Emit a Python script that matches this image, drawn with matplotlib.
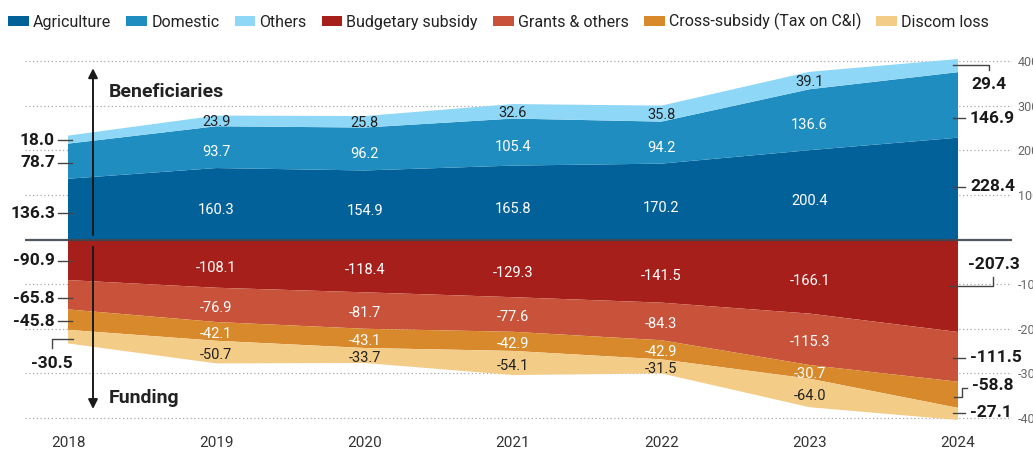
import matplotlib
matplotlib.use("Agg")
import matplotlib.pyplot as plt
from matplotlib.patches import Patch
import numpy as np

plt.rcParams['font.family'] = ['Roboto', 'DejaVu Sans']

years = [2018, 2019, 2020, 2021, 2022, 2023, 2024]
agriculture = [136.3, 160.3, 154.9, 165.8, 170.2, 200.4, 228.4]
domestic = [78.7, 93.7, 96.2, 105.4, 94.2, 136.6, 146.9]
others = [18.0, 23.9, 25.8, 32.6, 35.8, 39.1, 29.4]
budgetary = [-90.9, -108.1, -118.4, -129.3, -141.5, -166.1, -207.3]
grants = [-65.8, -76.9, -81.7, -77.6, -84.3, -115.3, -111.5]
cross_subsidy = [-45.8, -42.1, -43.1, -42.9, -42.9, -30.7, -58.8]
discom_loss = [-30.5, -50.7, -33.7, -54.1, -31.5, -64.0, -27.1]

names = ["Agriculture", "Domestic", "Others", "Budgetary subsidy",
         "Grants & others", "Cross-subsidy (Tax on C&I)", "Discom loss"]
colors = ["#03619a", "#1f8dbf", "#8ed7f6", "#a61f1a", "#c9523a", "#d8892c", "#f3cd88"]
label_colors = ["white", "white", "#222222", "white", "white", "white", "#222222"]
label_offsets = [-14, -12, -3, -10, -6, -5, -6]
yticks = [-400, -300, -200, -100, 100, 200, 300, 400]
ytick_labels = ["-400", "-300", "-200", "-100", "100", "200", "300", "400"]

pos_series = [agriculture, domestic, others]
neg_series = [budgetary, grants, cross_subsidy, discom_loss]

fig = plt.figure(figsize=(10.33, 4.65), dpi=100)
ax = fig.add_axes([25/1033, 0.0869, 987/1033, 0.796])

x = np.array(years, dtype=float)
ax.stackplot(x, *pos_series, colors=colors[:3], lw=0, zorder=2)
ax.stackplot(x, *neg_series, colors=colors[3:], lw=0, zorder=2)

ax.set_xlim(2018 - 43/148.33, 2024 + 54/148.33)
ax.set_ylim(-415, 415)

for yv in yticks:
    ax.axhline(yv, color="#a8a8a8", lw=0.9, ls=(0, (1, 2)), zorder=1)
ax.axhline(0, color="#3a4650", lw=1.6, zorder=4, alpha=0.9)

for s in ax.spines.values():
    s.set_visible(False)
ax.set_xticks(years)
ax.set_xticklabels([str(y) for y in years])
ax.tick_params(axis='x', length=0, pad=8, labelsize=11, labelcolor="#333333")
ax.yaxis.tick_right()
ax.set_yticks(yticks)
ax.set_yticklabels(ytick_labels)
ax.tick_params(axis='y', length=0, pad=4, labelsize=9, labelcolor="#666666")

# inner labels
pos_cum = np.cumsum(np.array(pos_series), axis=0)
neg_cum = np.cumsum(np.array(neg_series), axis=0)
for i in range(1, 6):
    for k, s in enumerate(pos_series):
        base = pos_cum[k - 1][i] if k > 0 else 0.0
        yv = base + s[i] / 2 + label_offsets[k]
        ax.text(x[i], yv, f"{s[i]:.1f}", ha='center', va='center',
                color=label_colors[k], fontsize=10.5, zorder=5)
    for k, s in enumerate(neg_series):
        base = neg_cum[k - 1][i] if k > 0 else 0.0
        yv = base + s[i] / 2 + label_offsets[3 + k]
        ax.text(x[i], yv, f"{s[i]:.1f}", ha='center', va='center',
                color=label_colors[3 + k], fontsize=10.5, zorder=5)

# left edge labels (2018)
lab_kw = dict(fontsize=12.5, fontweight='semibold', color="#1a1a1a", zorder=6)
px = 148.33
xl_text = 2018 - 13/px
tick_l = (2018 - 10/px, 2018 + 4/px)
left_pos = [(agriculture[0], 59), (domestic[0], 172), (others[0], 223),
            (budgetary[0], -47.5), (grants[0], -132), (cross_subsidy[0], -183)]
for val, yv in left_pos:
    ax.text(xl_text, yv, f"{val:.1f}", ha='right', va='center', **lab_kw)
    ax.plot(tick_l, [yv, yv], color="#444444", lw=1, zorder=6)
ax.text(2018 + 4.7/px, -279, f"{discom_loss[0]:.1f}", ha='right', va='center', **lab_kw)
ax.plot([2018 + 4.7/px, 2018 - 16.3/px, 2018 - 16.3/px], [-223, -223, -244],
        color="#444444", lw=1, zorder=6)

# right edge labels (2024)
xr_text = 2024 + 12/px
tick_r = (2024 - 5/px, 2024 + 7/px)
for val, yv in [(agriculture[6], 118), (domestic[6], 272), (grants[6], -265), (discom_loss[6], -388)]:
    ax.text(xr_text, yv, f"{val:.1f}", ha='left', va='center', **lab_kw)
    ax.plot(tick_r, [yv, yv], color="#444444", lw=1, zorder=6)
ax.text(2024 + 13/px, 348, f"{others[6]:.1f}", ha='left', va='center', **lab_kw)
ax.plot([2024 - 5/px, 2024 + 31/px, 2024 + 31/px], [391, 391, 380], color="#444444", lw=1, zorder=6)
ax.text(2024 + 9.7/px, -57, f"{budgetary[6]:.1f}", ha='left', va='center', **lab_kw)
ax.plot([2024 - 9/px, 2024 + 35/px, 2024 + 35/px], [-103.6, -103.6, -84], color="#444444", lw=1, zorder=6)
ax.text(2024 + 14/px, -328, f"{cross_subsidy[6]:.1f}", ha='left', va='center', **lab_kw)
ax.plot([2024 - 4/px, 2024 + 4/px, 2024 + 4/px, 2024 + 9/px], [-352.5, -352.5, -332.3, -332.3],
        color="#444444", lw=1, zorder=6)

# arrows
xa = 2018 + 25/px
ax.annotate("", xy=(xa, 384), xytext=(xa, 10),
            arrowprops=dict(arrowstyle='-|>', color='#1a1a1a', lw=1.4,
                            mutation_scale=14, shrinkA=0, shrinkB=0), zorder=6)
ax.annotate("", xy=(xa, -380), xytext=(xa, -16),
            arrowprops=dict(arrowstyle='-|>', color='#1a1a1a', lw=1.4,
                            mutation_scale=14, shrinkA=0, shrinkB=0), zorder=6)
ax.text(2018 + 41/px, 331, "Beneficiaries", ha='left', va='center',
        fontsize=14, fontweight='bold', color="#222222", zorder=6)
ax.text(2018 + 41/px, -355, "Funding", ha='left', va='center',
        fontsize=14, fontweight='bold', color="#222222", zorder=6)

handles = [Patch(facecolor=c, edgecolor='none') for c in colors]
fig.legend(handles, names, loc='center left', bbox_to_anchor=(0.008, 0.953),
           ncol=7, frameon=False, fontsize=11.5, handlelength=1.3, handleheight=0.6,
           handletextpad=0.25, columnspacing=0.95, labelcolor="#222222", borderaxespad=0,
           borderpad=0)

fig.savefig("out.png", dpi=100)
